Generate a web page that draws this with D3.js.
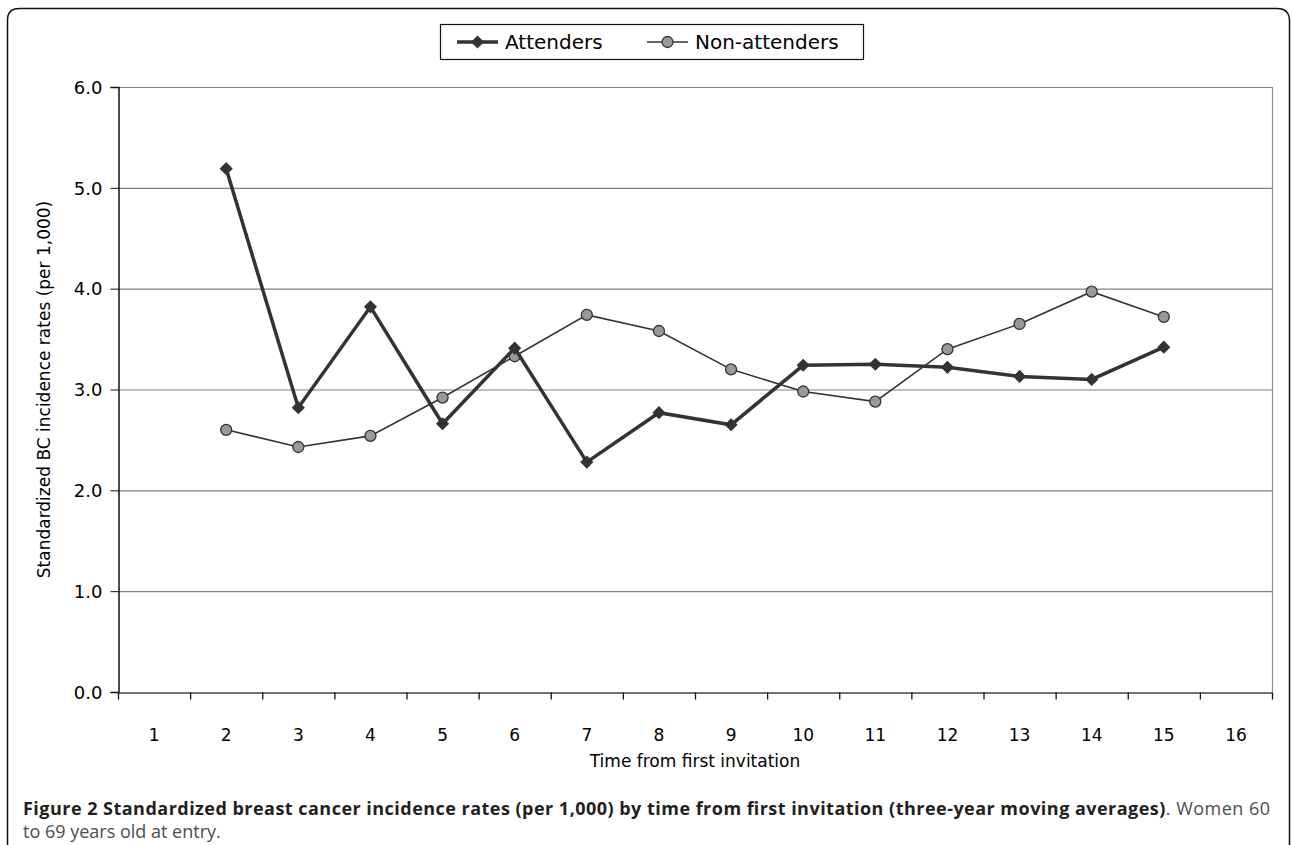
<!DOCTYPE html>
<html>
<head>
<meta charset="utf-8">
<script src="https://cdn.jsdelivr.net/npm/d3@7"></script>
<style>
  body { margin: 0; background: #fff; }
  .comic { font-family: "Comic Sans MS", "DejaVu Sans", sans-serif; fill: #000; }
  .caption { font-family: "Open Sans", "Noto Sans", sans-serif; font-size: 18px; }
</style>
</head>
<body>
<svg id="chart" width="1292" height="845"></svg>
<script>
"use strict";

let years = [1, 2, 3, 4, 5, 6, 7, 8, 9, 10, 11, 12, 13, 14, 15, 16]
let attenders = [null, 5.19, 2.82, 3.82, 2.66, 3.41, 2.28, 2.77, 2.65, 3.24, 3.25, 3.22, 3.13, 3.10, 3.42, null]
let nonAttenders = [null, 2.60, 2.43, 2.54, 2.92, 3.33, 3.74, 3.58, 3.20, 2.98, 2.88, 3.40, 3.65, 3.97, 3.72, null]
let yTicks = [0, 1, 2, 3, 4, 5, 6]

let svg = d3.select("#chart")

// rounded frame around the figure, open at the bottom
svg.append("path")
    .attr("d", "M7.5,860 L7.5,20 Q7.5,8.5 19.5,8.5 L1277,8.5 Q1289.5,8.5 1289.5,21 L1289.5,860")
    .attr("fill", "none")
    .attr("stroke", "#111")
    .attr("stroke-width", 1.5)

let plot = {left: 118, right: 1272, top: 87, bottom: 692}

let x = d3.scaleBand().domain(years).range([plot.left, plot.right])
let y = d3.scaleLinear().domain([0, 6]).range([plot.bottom, plot.top])

// gridlines
svg.append("g").selectAll("line").data(yTicks.filter(d => d > 0)).join("line")
    .attr("x1", plot.left).attr("x2", plot.right)
    .attr("y1", d => y(d) + 0.5).attr("y2", d => y(d) + 0.5)
    .attr("stroke", "#808080").attr("stroke-width", 1.2)

// right border of plot area
svg.append("line")
    .attr("x1", plot.right + 0.5).attr("x2", plot.right + 0.5)
    .attr("y1", plot.top).attr("y2", plot.bottom)
    .attr("stroke", "#909090").attr("stroke-width", 1.2)

// y axis
let yAxis = svg.append("g")
    .attr("transform", "translate(" + (plot.left + 0.5) + ",0)")
    .call(d3.axisLeft(y).tickValues(yTicks).tickFormat(d3.format(".1f")).tickSize(8).tickPadding(8))
yAxis.select(".domain").attr("stroke", "#111").attr("stroke-width", 1.5)
yAxis.selectAll(".tick line").attr("stroke", "#111")
yAxis.selectAll("text").attr("class", "comic").style("font-size", "18px").attr("dy", "0.35em")

// x axis
let xAxis = svg.append("g")
    .attr("transform", "translate(0," + (plot.bottom + 0.5) + ")")
    .call(d3.axisBottom(x).tickSize(0).tickPadding(0))
xAxis.select(".domain").attr("stroke", "#444").attr("stroke-width", 1.5)
xAxis.selectAll("text").attr("class", "comic").style("font-size", "17px").attr("y", 48).attr("dy", 0)
xAxis.append("g").selectAll("line").data(years.concat([null])).join("line")
    .attr("x1", (d, i) => plot.left + i * x.step() + 0.5)
    .attr("x2", (d, i) => plot.left + i * x.step() + 0.5)
    .attr("y1", 0).attr("y2", 7)
    .attr("stroke", "#111").attr("stroke-width", 1.3)

// axis titles
svg.append("text")
    .attr("class", "comic")
    .attr("x", (plot.left + plot.right) / 2).attr("y", 767)
    .attr("text-anchor", "middle")
    .style("font-size", "17px")
    .text("Time from first invitation")
svg.append("text")
    .attr("class", "comic")
    .attr("transform", "translate(50," + ((plot.top + plot.bottom) / 2) + ") rotate(-90)")
    .attr("text-anchor", "middle")
    .style("font-size", "17px")
    .text("Standardized BC incidence rates (per 1,000)")

let cx = i => x(years[i]) + x.bandwidth() / 2
let line = d3.line()
    .defined(d => d != null)
    .x((d, i) => cx(i))
    .y(d => y(d))

let diamond = d3.symbol().type(d3.symbolDiamond2).size(110)

// non-attenders
svg.append("path").datum(nonAttenders)
    .attr("d", line)
    .attr("fill", "none").attr("stroke", "#333").attr("stroke-width", 1.6)
svg.append("g").selectAll("circle")
    .data(nonAttenders.map((v, i) => ({v, i})).filter(d => d.v != null)).join("circle")
    .attr("cx", d => cx(d.i)).attr("cy", d => y(d.v)).attr("r", 5.5)
    .attr("fill", "#999").attr("stroke", "#333").attr("stroke-width", 1.3)

// attenders
svg.append("path").datum(attenders)
    .attr("d", line)
    .attr("fill", "none").attr("stroke", "#333").attr("stroke-width", 3.5)
svg.append("g").selectAll("path")
    .data(attenders.map((v, i) => ({v, i})).filter(d => d.v != null)).join("path")
    .attr("d", diamond)
    .attr("transform", d => "translate(" + cx(d.i) + "," + y(d.v) + ")")
    .attr("fill", "#333")

// legend
let legend = svg.append("g")
legend.append("rect")
    .attr("x", 440.5).attr("y", 24.5).attr("width", 423).attr("height", 35)
    .attr("fill", "#fff").attr("stroke", "#111").attr("stroke-width", 1.2)
let legendItems = [
  {name: "Attenders", x0: 457, width: 3.5, marker: "diamond"},
  {name: "Non-attenders", x0: 647, width: 1.6, marker: "circle"}
]
legendItems.forEach(item => {
  let g = legend.append("g").attr("transform", "translate(" + item.x0 + ",42)")
  g.append("line").attr("x1", 0).attr("x2", 41).attr("stroke", "#333").attr("stroke-width", item.width)
  if (item.marker == "diamond") {
    g.append("path").attr("d", diamond).attr("transform", "translate(20.5,0)").attr("fill", "#333")
  } else {
    g.append("circle").attr("cx", 20.5).attr("r", 5.5).attr("fill", "#999").attr("stroke", "#333").attr("stroke-width", 1.3)
  }
  g.append("text").attr("class", "comic").attr("x", 48).attr("dy", "0.35em")
      .style("font-size", "20px").text(item.name)
})

// caption
let cap = svg.append("text").attr("class", "caption").attr("x", 23).attr("y", 815)
    .attr("textLength", 1247).attr("lengthAdjust", "spacing")
cap.append("tspan").attr("font-weight", "bold").attr("fill", "#231f20")
    .text("Figure 2 Standardized breast cancer incidence rates (per 1,000) by time from first invitation (three-year moving averages)")
cap.append("tspan").attr("fill", "#4d4d4d").text(". Women 60")
svg.append("text").attr("class", "caption").attr("x", 23).attr("y", 838)
    .attr("fill", "#4d4d4d")
    .text("to 69 years old at entry.")
</script>
</body>
</html>
